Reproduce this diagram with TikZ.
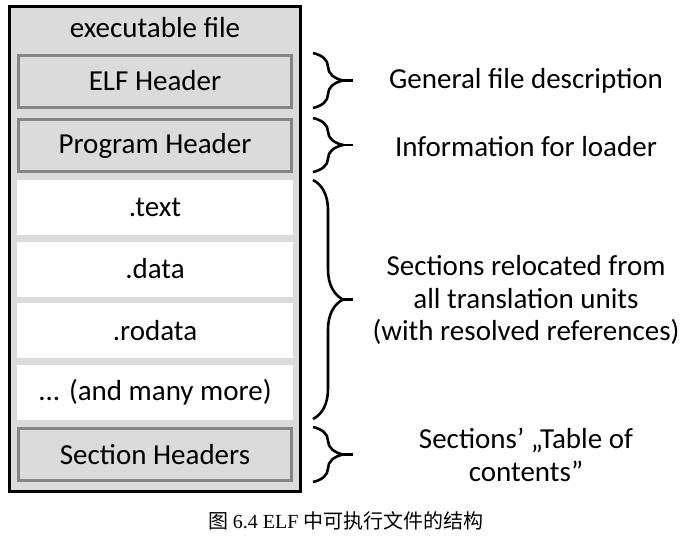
\documentclass[tikz,border=0pt]{standalone}
\usepackage{fontspec}
\setmainfont{Carlito}
\newfontfamily\cjk{Noto Sans CJK SC}
\newfontfamily\capserif{Liberation Serif}
\usetikzlibrary{decorations.pathreplacing}

\begin{document}
\begin{tikzpicture}[x=1pt,y=-1pt,
  every node/.style={font=\fontsize{29}{32.5}\selectfont, inner sep=0pt, outer sep=0pt},
  filebox/.style={draw=black, line width=3pt, fill=black!14, minimum width=291pt, minimum height=485pt},
  hdrbox/.style={draw=black!48, line width=3pt, fill=black!14, minimum width=273pt, minimum height=52pt},
  secbox/.style={fill=white, minimum width=276pt, minimum height=55pt},
  note/.style={align=center},
  bracket/.style={decorate, decoration={brace, amplitude=30pt}, line width=2.6pt},
  tipline/.style={line width=2.6pt}]
\useasboundingbox (0,0) rectangle (692,547);

\node[filebox] (exe) at (155,249) {};
\node (title) at (155,28) {executable file};
\node[hdrbox] (elfhdr) at (155,81) {ELF Header};
\node[hdrbox] (proghdr) at (155,145.5) {Program Header};
\node[secbox] (text) at (155,207.5) {.text};
\node[secbox] (data) at (155,269) {.data};
\node[secbox] (rodata) at (155,330.5) {.rodata};
\node[secbox] (more) at (155,392.5) {... (and many more)};
\node[hdrbox] (secthdr) at (155,454.5) {Section Headers};

\coordinate (t1) at (313,53);  \coordinate (b1) at (313,108);
\coordinate (t2) at (313,118); \coordinate (b2) at (313,172);
\coordinate (t3) at (313,180); \coordinate (b3) at (313,419);
\coordinate (t4) at (313,427); \coordinate (b4) at (313,482);
\draw[bracket] (t1) -- (b1);
\draw[bracket] (t2) -- (b2);
\draw[bracket] (t3) -- (b3);
\draw[bracket] (t4) -- (b4);
\draw[tipline] (342,80.5) -- (353,80.5);
\draw[tipline] (342,145) -- (353,145);
\draw[tipline] (342,299.5) -- (353,299.5);
\draw[tipline] (342,454.5) -- (353,454.5);

\node[note] (descr) at (526,81) {General file description};
\node[note] (loader) at (526,147) {Information for loader};
\node[note] (reloc) at (526,300) {Sections relocated from\\all translation units\\(with resolved references)};
\node[note] (toc) at (526,455) {Sections’ „Table of\\contents”};

\node (caption) at (346,521) {\fontsize{20}{23}\selectfont\cjk 图 \capserif 6.4 ELF \cjk 中可执行文件的结构};
\end{tikzpicture}
\end{document}
